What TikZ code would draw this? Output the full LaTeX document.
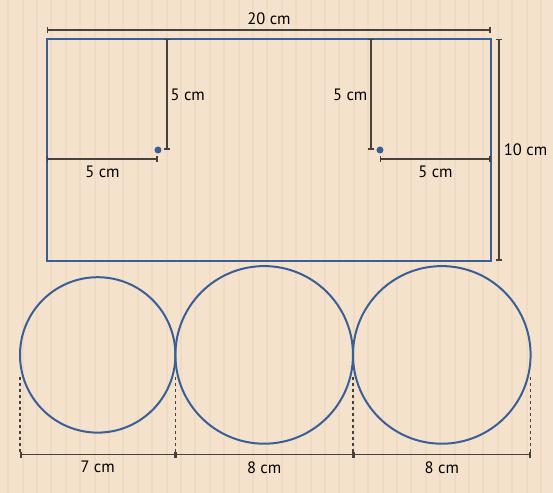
\documentclass[tikz,border=0pt]{standalone}
\usepackage{fontspec}
\setmainfont{PT Sans}
\usepackage{xcolor}
\usepackage{tikz}
\usetikzlibrary{arrows.meta,calc,positioning}

\definecolor{paper}{RGB}{244,226,205}
\definecolor{stripe}{RGB}{239,219,195}
\definecolor{edgeblue}{RGB}{58,95,150}
\definecolor{dimgray}{RGB}{72,64,58}

\tikzset{
	dimline/.style={line width=1.5pt, dimgray, {Bar[width=6pt,line width=1.5pt]}-{Bar[width=6pt,line width=1.5pt]}},
	helpline/.style={line width=1.2pt, dimgray, dashed, dash pattern=on 3.5pt off 2.5pt},
	edge/.style={line width=2pt, edgeblue},
	dimlabel/.style={inner sep=2pt, text=black, font=\fontsize{16.5}{19}\selectfont}
}

\begin{document}
\begin{tikzpicture}[x=22.2pt, y=22.2pt]
				\useasboundingbox (-2.117,-10.45) rectangle (22.793,11.757);
				\fill [paper] (-2.117,-10.45) rectangle (22.793,11.757);
				\foreach \i in {0,...,38}
					\fill [stripe] ({-1.79+0.6486*\i},-10.45) rectangle ({-1.70+0.6486*\i},11.757);
				
				% sheet
				\draw [edge] (0,0) rectangle (20,10);
				
				\coordinate (ptl) at (5,5);
				\coordinate (ptr) at (15,5);
				\fill [edgeblue] (ptl) circle (3.5pt);
				\fill [edgeblue] (ptr) circle (3.5pt);
				
				% % % % % % % % % % % % % % % % % % % % % % % % % %
				
				\draw [dimline] (0,10.4) -- (20,10.4) node [midway, above=3pt, dimlabel] (wtxt) {20 cm};
				\draw [dimline] (20.37,10) -- (20.37,0) node [midway, right=2pt, dimlabel] (htxt) {10 cm};
				
				\draw [dimline] (5.4,10) -- (5.4,5) node [midway, right=1pt, dimlabel] (lvtxt) {5 cm};
				\draw [dimline] (14.6,10) -- (14.6,5) node [midway, left=1pt, dimlabel] (rvtxt) {5 cm};
				\draw [dimline] (0,4.6) -- (5,4.6) node [midway, below=4pt, dimlabel] (lhtxt) {5 cm};
				\draw [dimline] (15,4.6) -- (20,4.6) node [midway, below=4pt, dimlabel] (rhtxt) {5 cm};
				
				% % % % % % % % % % % % % % % % % % % % % % % % % %
				
				\draw [edge] (2.284,-4.23) circle (3.5);
				\draw [edge] (9.784,-4.23) circle (4);
				\draw [edge] (17.784,-4.23) circle (4);
				
				\foreach \x in {-1.216,5.784,13.784,21.784}
					\draw [helpline] (\x,-5.21) -- (\x,-8.72);
				
				\draw [dimline] (-1.216,-8.72) -- (5.784,-8.72) node [midway, below=4pt, dimlabel] (dtxta) {7 cm};
				\draw [dimline] (5.784,-8.72) -- (13.784,-8.72) node [midway, below=4pt, dimlabel] (dtxtb) {8 cm};
				\draw [dimline] (13.784,-8.72) -- (21.784,-8.72) node [midway, below=4pt, dimlabel] (dtxtc) {8 cm};
\end{tikzpicture}
\end{document}
